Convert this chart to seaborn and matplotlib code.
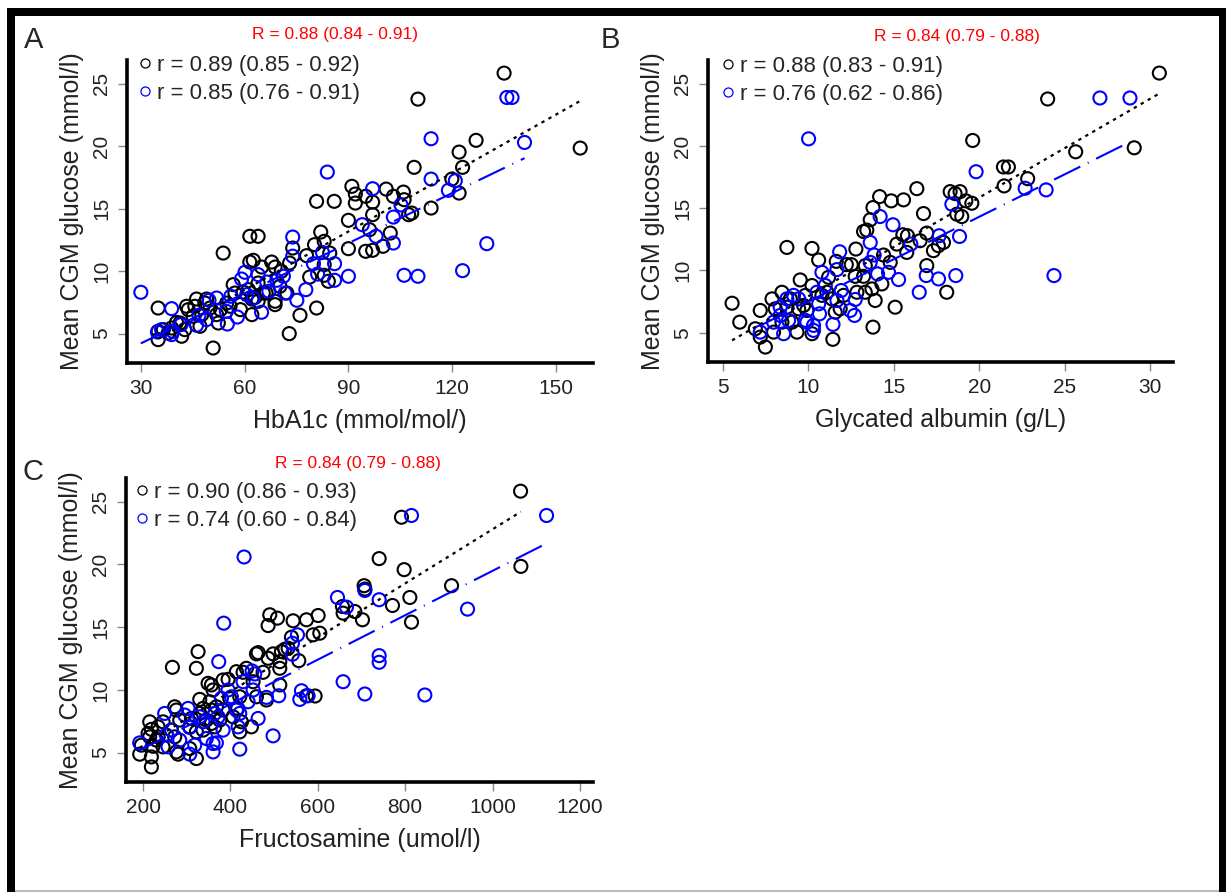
import matplotlib
matplotlib.use('Agg')
import matplotlib.pyplot as plt
from matplotlib.lines import Line2D
from matplotlib.patches import Rectangle
import seaborn as sns

# ---- Panel A: HbA1c vs mean CGM glucose ----
hba1c_black = [135.0, 110.1, 157.0, 126.9, 122.0, 123.0, 109.0, 119.9, 122.0, 113.9, 91.0, 92.0, 92.0, 95.0,
               100.9, 103.0, 105.9, 97.0, 106.1, 97.0, 107.4, 108.3, 90.0, 80.8, 85.9, 96.1, 102.1, 100.0, 95.0,
               97.0, 90.0, 82.0, 83.0, 80.2, 73.9, 77.9, 84.6, 83.0, 83.0, 84.2, 78.8, 80.8, 76.0, 72.9, 50.9,
               61.5, 63.9, 53.8, 62.5, 61.5, 67.8, 68.8, 64.9, 70.6, 73.0, 70.2, 72.2, 68.8, 68.8, 66.2, 63.9,
               63.9, 62.1, 61.1, 62.1, 59.6, 56.7, 57.2, 55.8, 53.0, 51.9, 52.4, 49.0, 48.5, 46.1, 45.6, 43.7,
               43.2, 45.1, 47.6, 47.1, 42.7, 41.8, 41.3, 38.9, 37.9, 35.0, 35.0, 35.0, 36.5, 40.3, 50.0, 54.8,
               58.8, 63.0, 65.4]
glu_a_black = [25.85, 23.77, 19.85, 20.47, 19.53, 18.31, 18.31, 17.37, 16.25, 15.05, 16.79, 16.17, 15.45, 15.99,
               16.57, 15.99, 16.33, 15.53, 15.72, 14.52, 14.52, 14.65, 14.07, 15.59, 15.59, 13.32, 13.05, 11.99,
               11.59, 11.67, 11.8, 13.13, 12.39, 12.12, 11.85, 11.24, 11.45, 10.52, 9.67, 9.19, 9.53, 7.05, 6.47,
               5.0, 3.85, 12.79, 12.79, 11.45, 10.87, 10.73, 10.73, 10.33, 10.33, 9.99, 10.65, 8.79, 8.25, 7.59,
               7.32, 8.25, 9.05, 7.59, 7.77, 8.52, 6.52, 8.33, 8.92, 8.25, 7.19, 6.92, 6.52, 5.85, 7.77, 7.45,
               7.77, 7.19, 6.92, 7.19, 6.39, 6.52, 5.59, 5.32, 4.79, 5.85, 5.45, 5.05, 4.52, 5.19, 7.05, 5.32,
               5.9, 7.05, 7.45, 6.92, 7.9, 8.25]
hba1c_blue = [30.0, 113.9, 135.8, 137.3, 140.9, 83.9, 113.9, 97.0, 120.9, 118.9, 105.2, 103.0, 94.0, 98.0, 103.0,
              73.9, 73.9, 82.5, 86.0, 79.9, 81.1, 86.0, 90.0, 106.1, 110.1, 123.0, 130.0, 60.1, 59.1, 63.9, 66.4,
              71.2, 69.3, 67.0, 71.7, 77.7, 75.1, 64.9, 60.6, 62.5, 56.0, 51.9, 49.7, 54.7, 57.9, 55.0, 49.0,
              46.8, 46.1, 41.6, 38.9, 38.9, 34.8, 36.0, 39.2]
glu_a_blue = [8.31, 20.6, 23.9, 23.9, 20.3, 17.93, 17.37, 16.6, 17.24, 16.47, 15.3, 14.33, 13.72, 12.79, 12.25,
              12.73, 11.2, 11.5, 10.6, 10.6, 9.77, 9.27, 9.59, 9.67, 9.59, 10.04, 12.2, 9.91, 9.37, 9.72, 9.13,
              9.59, 9.27, 8.39, 8.25, 8.52, 7.67, 6.71, 8.12, 7.85, 7.99, 7.85, 7.67, 6.79, 6.33, 5.77, 6.12,
              6.47, 5.67, 5.72, 7.0, 4.92, 5.13, 5.32, 5.19]

# ---- Panel B: glycated albumin vs mean CGM glucose ----
ga_black = [30.55, 24.01, 29.08, 19.62, 25.65, 21.42, 21.71, 22.84, 21.46, 16.35, 18.30, 18.59, 18.88, 19.22,
            19.57, 14.17, 14.85, 15.57, 13.78, 13.62, 13.42, 13.23, 16.74, 18.69, 18.98, 16.93, 15.53, 15.80,
            16.54, 15.18, 15.76, 17.32, 17.61, 17.91, 16.93, 18.1, 15.08, 13.78, 11.43, 8.74, 10.21, 10.6,
            12.78, 12.22, 12.51, 11.63, 12.74, 13.23, 13.33, 14.4, 14.79, 14.3, 12.84, 13.33, 13.72, 13.91,
            9.52, 11.18, 11.86, 12.06, 11.38, 11.57, 10.79, 11.08, 10.21, 9.82, 9.43, 9.72, 9.91, 9.33, 10.21,
            9.04, 8.45, 7.87, 8.06, 7.18, 6.89, 7.18, 7.48, 7.96, 5.98, 5.53, 8.74, 8.94, 8.45]
glu_b_black = [25.85, 23.77, 19.85, 20.44, 19.53, 18.31, 18.31, 17.37, 16.79, 16.57, 16.33, 16.17, 16.33, 15.59,
               15.4, 15.93, 15.59, 15.67, 15.05, 14.07, 13.24, 13.13, 14.57, 14.52, 14.33, 13.0, 12.87, 12.79,
               12.39, 12.12, 11.45, 11.59, 11.99, 12.25, 10.39, 8.25, 7.05, 5.45, 4.47, 11.85, 11.77, 10.84,
               11.72, 10.47, 10.47, 10.73, 9.53, 9.53, 10.39, 11.24, 10.65, 8.92, 8.25, 8.25, 8.52, 7.59,
               9.24, 9.45, 6.92, 8.0, 7.72, 6.65, 8.0, 8.25, 8.79, 8.0, 6.92, 7.19, 6.79, 5.05, 4.92,
               5.85, 8.25, 7.72, 6.92, 6.79, 5.32, 4.65, 3.85, 5.05, 5.85, 7.37, 7.05, 7.72, 5.85]
ga_blue = [10.01, 27.07, 28.83, 19.82, 22.69, 23.92, 18.40, 14.20, 14.95, 13.62, 17.66, 18.85, 16.0, 11.83, 13.85,
           13.62, 11.67, 10.79, 14.05, 14.69, 15.28, 16.9, 17.62, 18.63, 24.38, 16.49, 11.92, 11.67, 12.74, 12.45,
           12.70, 11.44, 10.99, 10.5, 10.6, 10.65, 9.91, 10.3, 10.3, 9.13, 8.74, 8.35, 8.35, 8.84, 8.55, 7.96,
           7.18, 9.43, 9.82]
glu_b_blue = [20.57, 23.85, 23.85, 17.93, 16.6, 16.47, 15.32, 14.33, 13.67, 12.25, 12.79, 12.73, 12.12, 11.5, 11.24,
              10.65, 10.07, 9.85, 9.72, 9.85, 9.27, 9.59, 9.32, 9.59, 9.59, 8.25, 8.39, 7.59, 7.67, 6.79,
              6.39, 5.67, 8.79, 8.25, 7.32, 6.52, 5.85, 5.59, 5.19, 8.0, 7.72, 7.05, 6.39, 5.99, 4.92, 5.85,
              5.05, 7.72, 6.0]

# ---- Panel C: fructosamine vs mean CGM glucose ----
fru_black = [1064.2, 791.6, 740.5, 797.7, 1064.9, 906.2, 706.1, 707.7, 810.7, 771.0, 656.5, 684.8, 658.0, 702.3,
             814.5, 490.1, 486.3, 507.7, 543.5, 574.1, 600.8, 589.3, 604.6, 539.7, 524.4, 516.8, 497.7, 459.6,
             463.4, 486.3, 513.0, 513.0, 532.1, 556.5, 474.8, 513.0, 436.6, 429.0, 413.7, 451.9, 326.0, 322.1,
             267.2, 348.9, 356.5, 360.3, 383.2, 394.7, 398.5, 329.8, 352.7, 421.4, 459.6, 482.5, 593.9, 574.1,
             416.8, 406.1, 425.2, 421.4, 448.1, 383.2, 367.9, 356.5, 375.6, 364.1, 337.4, 329.8, 345.0, 356.5,
             337.4, 310.7, 306.9, 322.1, 276.3, 272.5, 284.0, 264.9, 272.5, 245.8, 234.4, 215.3, 219.1, 215.3,
             230.5, 245.8, 276.3, 280.2, 306.9, 322.1, 222.9, 196.2, 192.4, 219.1, 219.1, 234.4, 211.5]
glu_c_black = [25.85, 23.77, 20.47, 19.59, 19.85, 18.31, 18.31, 18.04, 17.37, 16.73, 16.65, 16.25, 16.12, 15.59,
               15.4, 15.99, 15.13, 15.72, 15.51, 15.59, 15.93, 14.39, 14.52, 14.2, 13.24, 13.05, 12.87, 12.87,
               12.97, 12.52, 12.25, 11.72, 13.32, 12.33, 11.4, 10.39, 11.72, 11.4, 11.45, 10.65, 13.05, 11.72,
               11.8, 10.52, 10.39, 9.99, 10.79, 10.84, 9.32, 9.24, 9.05, 9.45, 9.45, 9.19, 9.51, 9.53,
               8.52, 7.85, 7.45, 6.65, 7.05, 8.39, 8.65, 8.39, 7.59, 7.05, 8.52, 8.12, 7.59, 7.32,
               6.79, 7.72, 7.05, 6.65, 8.39, 8.65, 7.59, 6.79, 6.25, 7.45, 7.05, 7.45, 6.85, 6.25,
               5.99, 5.45, 5.05, 4.87, 5.32, 4.52, 5.5, 5.59, 4.87, 4.65, 3.85, 6.25, 6.52]
fru_blue = [1123.7, 814.5, 431.3, 384.7, 645.1, 665.7, 707.7, 740.5, 942.8, 553.5, 542.0, 542.0, 740.5, 740.5,
            373.3, 658.0, 707.7, 845.1, 562.6, 558.8, 577.9, 510.7, 482.5, 449.6, 455.7, 429.0, 451.9, 440.5,
            463.4, 497.7, 421.4, 394.7, 379.4, 402.3, 413.7, 421.4, 417.6, 383.2, 371.8, 364.1, 360.3, 367.9,
            360.3, 345.0, 329.8, 337.4, 303.1, 295.4, 318.3, 306.9, 284.0, 253.4, 257.3, 249.6, 192.4, 264.9,
            306.9]
glu_c_blue = [23.91, 23.91, 20.6, 15.32, 17.37, 16.6, 17.93, 17.19, 16.44, 14.39, 13.72, 12.84, 12.73, 12.2,
              12.25, 10.65, 9.67, 9.59, 9.93, 9.24, 9.53, 9.53, 9.4, 11.51, 11.27, 10.65, 9.99, 9.05,
              7.72, 6.33, 5.27, 9.99, 9.32, 9.45, 8.39, 8.12, 7.05, 6.79, 7.85, 8.12, 5.72, 5.77,
              5.05, 6.12, 7.85, 7.45, 8.52, 7.99, 5.59, 4.87, 5.99, 6.39, 5.45, 8.12, 5.77, 6.79,
              7.0]

panel_letters = ['A', 'B', 'C']
x_labels = ['HbA1c (mmol/mol/)', 'Glycated albumin (g/L)', 'Fructosamine (umol/l)']
y_label = 'Mean CGM glucose (mmol/l)'
x_ticks = [[30, 60, 90, 120, 150], [5, 10, 15, 20, 25, 30], [200, 400, 600, 800, 1000, 1200]]
y_ticks = [5, 10, 15, 20, 25]
overall_r = ['R = 0.88 (0.84 - 0.91)', 'R = 0.84 (0.79 - 0.88)', 'R = 0.84 (0.79 - 0.88)']
black_r = ['r = 0.89 (0.85 - 0.92)', 'r = 0.88 (0.83 - 0.91)', 'r = 0.90 (0.86 - 0.93)']
blue_r = ['r = 0.85 (0.76 - 0.91)', 'r = 0.76 (0.62 - 0.86)', 'r = 0.74 (0.60 - 0.84)']

W, H = 1226, 892

sns.set_style("white")
plt.rcParams['font.family'] = ['Liberation Sans', 'DejaVu Sans']

fig = plt.figure(figsize=(W / 100, H / 100), dpi=100)


def px_axes(left, top, right, bottom):
    return fig.add_axes([left / W, 1 - bottom / H, (right - left) / W, (bottom - top) / H])


# pixel boxes of the three panels, plus where their texts sit
panels = [
    dict(box=(127, 60, 593, 363), xlim=(26, 160.7), data=(hba1c_black, glu_a_black, hba1c_blue, glu_a_blue),
         letter=(34, 40), rtext=(335, 35), legend=(138, 55)),
    dict(box=(708, 60, 1173, 362), xlim=(4.12, 31.35), data=(ga_black, glu_b_black, ga_blue, glu_b_blue),
         letter=(610, 40), rtext=(957, 36), legend=(721, 56)),
    dict(box=(126, 478, 593, 782), xlim=(161, 1230), data=(fru_black, glu_c_black, fru_blue, glu_c_blue),
         letter=(33, 472), rtext=(358, 464), legend=(135, 482)),
]

for i, p in enumerate(panels):
    ax = px_axes(*p['box'])
    xb, yb, xu, yu = p['data']

    scatter_style = dict(s=88, facecolors='none', linewidths=1.5, alpha=1)
    sns.regplot(x=xb, y=yb, ax=ax, ci=None, color='black', marker='o',
                scatter_kws=dict(scatter_style, zorder=2),
                line_kws=dict(lw=1.6, dashes=(1.5, 2.1), zorder=4))
    sns.regplot(x=xu, y=yu, ax=ax, ci=None, color='blue', marker='o',
                scatter_kws=dict(scatter_style, zorder=3),
                line_kws=dict(lw=1.5, dashes=(14, 4, 0.5, 4), zorder=4))

    ax.set_xlim(*p['xlim'])
    ax.set_ylim(2.65, 26.9)
    ax.set_xticks(x_ticks[i])
    ax.set_yticks(y_ticks)
    ax.set_yticklabels([str(t) for t in y_ticks], rotation=90, va='center')

    for side in ['top', 'right']:
        ax.spines[side].set_visible(False)
    for side in ['left', 'bottom']:
        ax.spines[side].set_linewidth(2.6)
        ax.spines[side].set_color('black')
        ax.spines[side].set_capstyle('projecting')

    ax.tick_params(axis='both', direction='out', length=6.5, width=1, color='#888888',
                   labelsize=15, labelcolor='#222222', pad=5, bottom=True, left=True)
    ax.set_xlabel(x_labels[i], fontsize=18, color='#222222', labelpad=8)
    ax.set_ylabel(y_label, fontsize=18, color='#222222', labelpad=6)

    handles = [
        Line2D([], [], ls='none', marker='o', ms=6.5, mfc='none', mec='black', mew=0.9),
        Line2D([], [], ls='none', marker='o', ms=6.5, mfc='none', mec='blue', mew=0.9),
    ]
    lx, ly = p['legend']
    ax.legend(handles, [black_r[i], blue_r[i]], loc='upper left',
              bbox_to_anchor=(lx / W, 1 - ly / H), bbox_transform=fig.transFigure,
              frameon=False, fontsize=16, borderpad=0, borderaxespad=0,
              handlelength=0.6, handletextpad=0.25, labelspacing=0.3)

    tx, ty = p['rtext']
    fig.text(tx / W, 1 - ty / H, overall_r[i], color='red', fontsize=12.5, ha='center', va='center')
    cx, cy = p['letter']
    fig.text(cx / W, 1 - cy / H, panel_letters[i], fontsize=21, ha='center', va='center')

# black frame round the figure (top, left, right) and the faint line at the bottom
frame = [(7, 8, 1226, 16), (7, 8, 15, 892), (1219, 8, 1226, 892)]
for x0, y0, x1, y1 in frame:
    fig.add_artist(Rectangle((x0 / W, 1 - y1 / H), (x1 - x0) / W, (y1 - y0) / H,
                             transform=fig.transFigure, color='black', lw=0))
fig.add_artist(Rectangle((15 / W, 0), (1219 - 15) / W, 2 / H,
                         transform=fig.transFigure, color='#bbbbbb', lw=0))

plt.savefig('out.png', dpi=100)
plt.close()
